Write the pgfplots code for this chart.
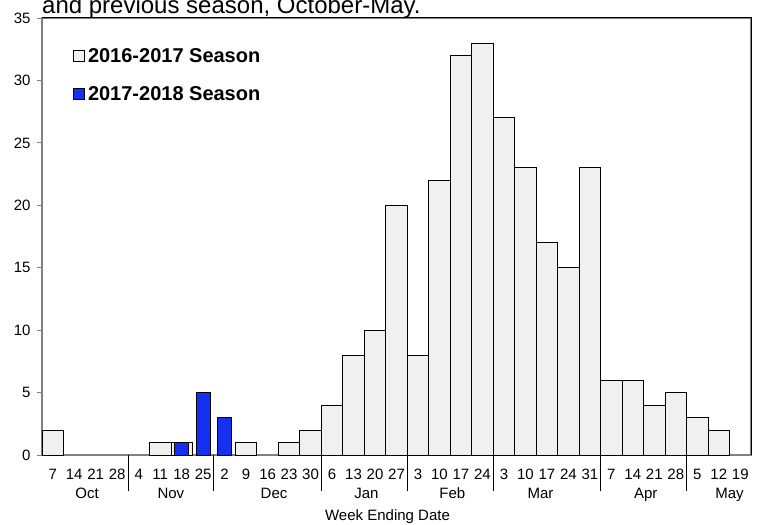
\documentclass[border=0pt]{standalone}
\usepackage{fontspec}
\setmainfont{Liberation Sans}
\usepackage{pgfplots}
\pgfplotsset{compat=1.18}
\usepackage{pgfplotstable}

\definecolor{lastseason}{HTML}{F0F0F0}
\definecolor{thisseason}{HTML}{1530F0}
\definecolor{axisgray}{HTML}{808080}

% week index (0 = Oct 7) and case count
\pgfplotstableread{
x y
0 2
5 1
6 1
9 1
11 1
12 2
13 4
14 8
15 10
16 20
17 8
18 22
19 32
20 33
21 27
22 23
23 17
24 15
25 23
26 6
27 6
28 4
29 5
30 3
31 2
}\prevseason

\pgfplotstableread{
x y
6 1
7 5
8 3
}\curseason

\tikzset{month/.style={anchor=base, font=\fontsize{15bp}{18bp}\selectfont, inner sep=0pt, yshift=-43.5bp}}

\begin{document}
\begin{tikzpicture}
\begin{axis}[
  name=ax,
  scale only axis,
  clip=false,
  width=709bp, height=437bp,
  xmin=-0.5, xmax=32.5,
  ymin=0, ymax=35,
  ytick={0,5,...,35},
  ytick pos=left,
  xtick pos=bottom,
  xtick={0,...,32},
  xticklabels={7,14,21,28,4,11,18,25,2,9,16,23,30,6,13,20,27,3,10,17,24,3,10,17,24,31,7,14,21,28,5,12,19},
  x tick style={draw=none},
  y tick style={axisgray, line width=0.8bp},
  major tick length=5bp,
  tick align=outside,
  axis line style={axisgray, line width=1.2bp},
  ticklabel style={font=\fontsize{15bp}{18bp}\selectfont},
  xticklabel style={yshift=-6bp},
  yticklabel style={xshift=-3bp},
  /pgf/number format/assume math mode=true,
  legend style={at={(axis description cs:0,1)}, anchor=north west,
    xshift=31bp, yshift=-28bp, draw=none, fill=none,
    font=\bfseries\fontsize{20bp}{24bp}\selectfont,
    row sep=19bp, inner sep=0pt,
    nodes={inner xsep=3bp}},
  legend cell align=left,
  legend image code/.code={\draw[#1] (0bp,-5bp) rectangle (11bp,6bp);},
]
\addplot[ybar, bar width=1, bar shift=0pt, fill=lastseason, draw=black, line width=0.8bp]
  table[x=x, y=y] {\prevseason};
\addlegendentry{2016-2017 Season}
\addplot[ybar, bar width=0.65, bar shift=0pt, fill=thisseason, draw=black, line width=0.8bp]
  table[x=x, y=y] {\curseason};
\addlegendentry{2017-2018 Season}

% month separators below the axis
\pgfplotsinvokeforeach{3.5,7.5,12.5,16.5,20.5,25.5,29.5}{
  \draw[black, line width=0.8bp] (axis cs:#1,0) -- ([yshift=-36bp]axis cs:#1,0);
}

% month names
\node[month] at (axis cs:1.6,0) {Oct};
\node[month] at (axis cs:5.5,0) {Nov};
\node[month] at (axis cs:10.3,0) {Dec};
\node[month] at (axis cs:14.6,0) {Jan};
\node[month] at (axis cs:18.6,0) {Feb};
\node[month] at (axis cs:22.7,0) {Mar};
\node[month] at (axis cs:27.6,0) {Apr};
\node[month] at (axis cs:31.5,0) {May};
\end{axis}

\draw[black, line width=1bp] (ax.north west) -- (ax.north east) -- (ax.south east);

\node[anchor=base, font=\fontsize{15bp}{18bp}\selectfont, inner sep=0pt]
  at ([xshift=-9bp, yshift=-65.5bp]ax.south) {Week Ending Date};

\node[anchor=base west, font=\fontsize{24bp}{28bp}\selectfont, inner sep=0pt]
  at ([yshift=4bp]ax.north west) {and previous season, October-May.};

\pgfresetboundingbox
\useasboundingbox ([shift={(-42bp,-70bp)}]ax.south west) rectangle ([shift={(9bp,18bp)}]ax.north east);
\end{tikzpicture}
\end{document}
